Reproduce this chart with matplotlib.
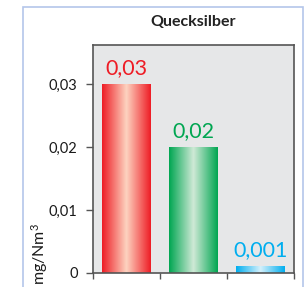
import numpy as np
import matplotlib
matplotlib.use("Agg")
import matplotlib.pyplot as plt
from matplotlib.colors import LinearSegmentedColormap
from matplotlib.patches import Rectangle

categories = ["A", "B", "C"]
values = [0.03, 0.02, 0.001]
value_labels = ["0,03", "0,02", "0,001"]
edge_colors = ["#ee1c25", "#00a651", "#00aeef"]
mid_colors = ["#fdd3c0", "#cfe9d6", "#d4f0fb"]
yticks = [0, 0.01, 0.02, 0.03]
ytick_labels = ["0", "0,01", "0,02", "0,03"]
title = "Quecksilber"
ylabel = "mg/Nm$^3$"

plt.rcParams['font.family'] = ['Lato', 'DejaVu Sans']
plt.rcParams['mathtext.default'] = 'regular'

W, H = 305, 287
fig = plt.figure(figsize=(W / 100, H / 100), dpi=100)
fig.patch.set_facecolor("white")

# outer frame
fig.patches.append(Rectangle((22.5 / W, -0.05), (303 - 22.5) / W, 1.05 - 6.5 / H,
                             transform=fig.transFigure, fill=False,
                             edgecolor="#b4c6ea", linewidth=1.2))

ax = fig.add_axes([93 / W, 1 - 273 / H, (294 - 93) / W, (273 - 45) / H])
ax.set_facecolor("#e6e7e8")
ax.set_xlim(-0.5, 2.5)
ax.set_ylim(0, 0.0362)

width = 0.72
x = np.arange(len(categories))
for xi, v, ec, mc, lab in zip(x, values, edge_colors, mid_colors, value_labels):
    cmap = LinearSegmentedColormap.from_list("g", [ec, mc, ec])
    grad = np.linspace(0, 1, 256).reshape(1, -1)
    ax.imshow(grad, cmap=cmap, aspect="auto",
              extent=[xi - width / 2, xi + width / 2, 0, v], zorder=2)
    ax.text(xi, v + 0.0010, lab, ha="center", va="bottom", color=ec,
            fontsize=15.5)

ax.set_xticks([-0.5, 0.5, 1.5, 2.5])
ax.set_xticklabels([])
ax.tick_params(axis="x", direction="out", length=4, color="#555555", width=1)
ax.set_yticks(yticks)
ax.set_yticklabels(ytick_labels, fontsize=10.5, color="#1a1a1a")
ax.tick_params(axis="y", direction="out", length=5, color="#555555", width=1, pad=6)

for s in ax.spines.values():
    s.set_color("#555555")
    s.set_linewidth(1.2)

fig.text(193.5 / W, 1 - 22 / H, title, ha="center", va="center",
         fontsize=11.5, fontweight="bold", color="#222222")
fig.text(40 / W, 1 - 254 / H, ylabel, ha="center", va="center",
         rotation=90, fontsize=11.5, color="#1a1a1a")

fig.savefig("out.png", dpi=100)
